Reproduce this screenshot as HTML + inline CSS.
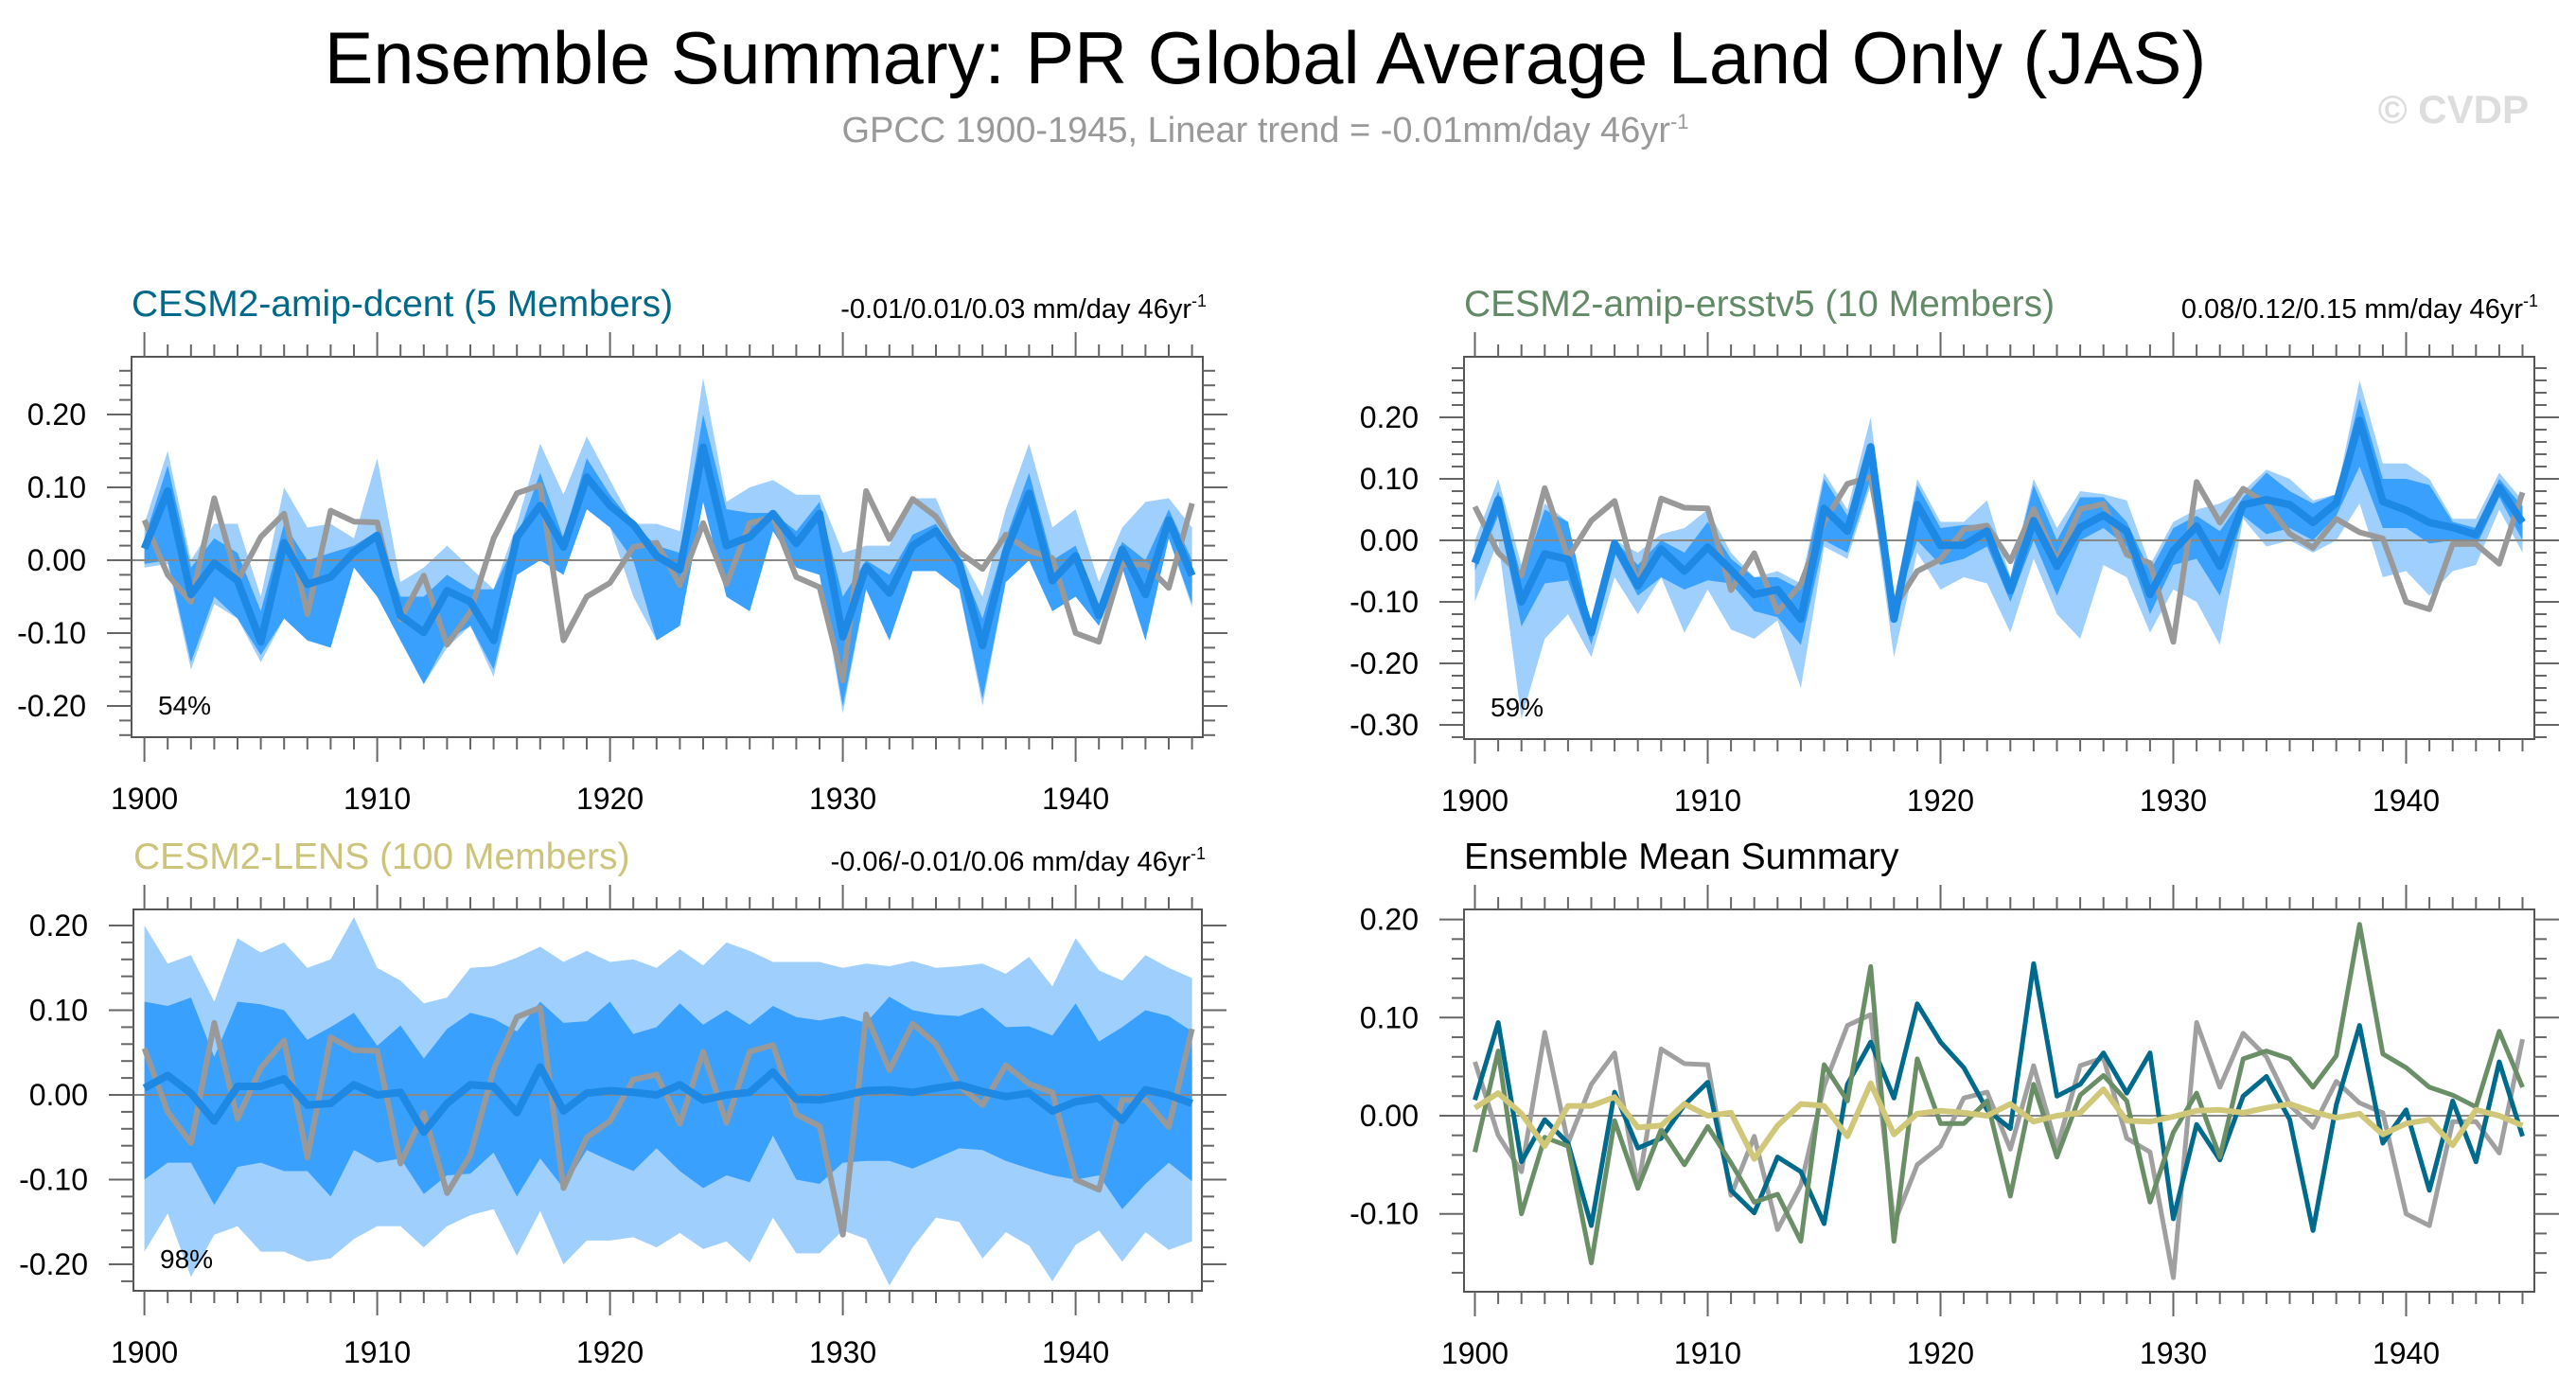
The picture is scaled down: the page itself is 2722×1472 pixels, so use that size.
<!DOCTYPE html>
<html><head><meta charset="utf-8">
<style>
html,body{margin:0;padding:0;background:#fff;}
svg{display:block;font-family:"Liberation Sans",Arial,sans-serif;}
</style></head>
<body>
<svg id="chart" width="2722" height="1472" viewBox="0 0 2722 1472" xmlns="http://www.w3.org/2000/svg">
<rect width="2722" height="1472" fill="#fff"/>
<text x="1337" y="88" font-size="77.5" text-anchor="middle" fill="#000">Ensemble Summary: PR Global Average Land Only (JAS)</text>
<text x="1337" y="150" font-size="38" text-anchor="middle" fill="#999">GPCC 1900-1945, Linear trend = -0.01mm/day 46yr<tspan dy="-14" font-size="22">-1</tspan></text>
<text x="2672" y="130" font-size="42" font-weight="bold" text-anchor="end" fill="#ddd">© CVDP</text>
<g id="panels"></g>
</svg>
<script>
const years = [];
for (let y = 1900; y <= 1945; y++) years.push(y);

const obs = [0.055,-0.02,-0.057,0.085,-0.028,0.032,0.064,-0.074,0.068,0.053,0.052,-0.081,-0.021,-0.116,-0.071,0.03,0.092,0.103,-0.11,-0.05,-0.031,0.018,0.024,-0.034,0.051,-0.033,0.051,0.059,-0.023,-0.037,-0.165,0.095,0.029,0.084,0.06,0.011,-0.012,0.035,0.013,0.003,-0.1,-0.112,-0.006,-0.006,-0.038,0.078];

const dcentMean = [0.016,0.095,-0.047,-0.004,-0.028,-0.112,0.024,-0.033,-0.023,0.011,0.034,-0.076,-0.099,-0.042,-0.057,-0.11,0.032,0.075,0.018,0.114,0.075,0.049,0.006,-0.013,0.155,0.02,0.032,0.064,0.023,0.064,-0.105,-0.009,-0.045,0.02,0.04,-0.004,-0.117,0.011,0.092,-0.028,0.006,-0.076,0.015,-0.047,0.055,-0.021];
const dcentDarkHi = [0.03,0.13,-0.01,0.03,0.01,-0.07,0.05,0.0,0.01,0.02,0.04,-0.05,-0.05,-0.02,-0.04,-0.04,0.03,0.12,0.03,0.14,0.09,0.05,0.02,0.01,0.20,0.07,0.065,0.065,0.04,0.08,-0.05,0.0,-0.02,0.035,0.05,0.0,-0.08,0.03,0.12,0.0,0.02,-0.06,0.025,0.0,0.07,0.0];
const dcentDarkLo = [-0.005,0.0,-0.14,-0.05,-0.08,-0.13,-0.08,-0.11,-0.12,-0.01,-0.05,-0.11,-0.17,-0.11,-0.09,-0.15,-0.02,0.0,-0.02,0.07,0.045,0.0,-0.11,-0.09,0.08,-0.05,-0.07,0.04,-0.01,-0.02,-0.20,-0.04,-0.11,-0.015,-0.015,-0.04,-0.19,-0.03,0.0,-0.07,-0.05,-0.09,-0.01,-0.11,0.03,-0.06];
const dcentLightHi = [0.05,0.15,0.0,0.05,0.05,-0.05,0.10,0.045,0.05,0.03,0.14,-0.03,-0.01,0.02,-0.01,-0.04,0.05,0.16,0.09,0.17,0.11,0.05,0.05,0.04,0.25,0.08,0.10,0.11,0.09,0.09,0.01,0.02,0.02,0.085,0.085,0.01,-0.05,0.07,0.16,0.045,0.07,-0.03,0.045,0.08,0.085,0.045];
const dcentLightLo = [-0.01,-0.005,-0.15,-0.06,-0.08,-0.14,-0.08,-0.11,-0.12,-0.01,-0.05,-0.11,-0.17,-0.12,-0.09,-0.16,-0.02,0.0,-0.02,0.07,0.045,-0.05,-0.11,-0.09,0.08,-0.05,-0.07,0.04,-0.01,-0.02,-0.21,-0.04,-0.11,-0.015,-0.015,-0.04,-0.2,-0.03,0.0,-0.07,-0.05,-0.09,-0.01,-0.11,0.03,-0.065];

const ersstMean = [-0.037,0.066,-0.10,-0.022,-0.031,-0.15,-0.005,-0.074,-0.014,-0.05,-0.011,-0.048,-0.088,-0.08,-0.128,0.052,0.015,0.152,-0.128,0.058,-0.008,-0.008,0.015,-0.082,0.032,-0.042,0.021,0.041,0.015,-0.088,-0.017,0.023,-0.042,0.058,0.066,0.058,0.029,0.061,0.195,0.063,0.049,0.029,0.021,0.009,0.086,0.029];
const ersstDarkHi = [-0.02,0.08,-0.06,0.05,0.03,-0.14,0.0,-0.04,0.0,-0.02,0.03,-0.03,-0.06,-0.06,-0.08,0.10,0.04,0.15,-0.10,0.09,0.02,0.025,0.025,-0.06,0.09,0.0,0.07,0.07,0.03,-0.05,0.02,0.04,0.015,0.07,0.11,0.08,0.06,0.075,0.23,0.10,0.10,0.09,0.03,0.02,0.10,0.055];
const ersstDarkLo = [-0.05,0.04,-0.14,-0.07,-0.065,-0.17,-0.02,-0.09,-0.06,-0.08,-0.065,-0.07,-0.115,-0.125,-0.17,0.0,-0.02,0.10,-0.12,0.0,-0.04,-0.03,-0.01,-0.10,0.0,-0.09,0.0,0.02,-0.01,-0.12,-0.04,-0.03,-0.09,0.04,0.01,0.02,0.0,0.04,0.12,0.02,0.02,-0.005,0.0,-0.01,0.07,0.0];
const ersstLightHi = [0.0,0.10,-0.04,0.06,0.03,-0.14,0.0,-0.02,0.01,0.02,0.05,-0.02,-0.06,-0.05,-0.07,0.11,0.05,0.20,-0.10,0.10,0.03,0.03,0.065,-0.06,0.10,0.02,0.08,0.075,0.065,-0.04,0.03,0.05,0.06,0.08,0.115,0.10,0.065,0.075,0.26,0.125,0.125,0.10,0.035,0.035,0.11,0.065];
const ersstLightLo = [-0.10,0.0,-0.29,-0.16,-0.12,-0.19,-0.06,-0.12,-0.06,-0.15,-0.08,-0.145,-0.16,-0.13,-0.24,-0.01,-0.03,0.09,-0.19,-0.02,-0.08,-0.06,-0.07,-0.15,-0.03,-0.12,-0.16,-0.04,-0.06,-0.15,-0.08,-0.10,-0.17,0.035,-0.01,0.0,-0.02,0.0,0.06,-0.06,-0.05,-0.09,-0.05,-0.04,0.05,-0.02];

const lensMean = [0.008,0.023,0.002,-0.031,0.01,0.01,0.019,-0.012,-0.01,0.012,0.0,0.003,-0.044,-0.01,0.012,0.01,-0.021,0.033,-0.019,0.002,0.005,0.003,0.0,0.012,-0.006,0.0,0.003,0.027,-0.005,-0.006,-0.001,0.005,0.006,0.003,0.008,0.012,0.004,-0.002,0.002,-0.019,-0.008,-0.004,-0.03,0.006,0.0,-0.01];
const lensDarkHi = [0.11,0.105,0.115,0.045,0.11,0.107,0.10,0.065,0.08,0.097,0.058,0.082,0.043,0.078,0.097,0.09,0.075,0.11,0.085,0.087,0.11,0.072,0.08,0.108,0.083,0.10,0.083,0.105,0.092,0.088,0.093,0.085,0.116,0.10,0.095,0.093,0.103,0.08,0.081,0.07,0.108,0.063,0.08,0.10,0.093,0.075];
const lensDarkLo = [-0.10,-0.08,-0.08,-0.13,-0.085,-0.08,-0.09,-0.09,-0.12,-0.065,-0.08,-0.075,-0.117,-0.095,-0.093,-0.068,-0.12,-0.075,-0.11,-0.065,-0.078,-0.09,-0.063,-0.09,-0.11,-0.095,-0.103,-0.048,-0.10,-0.105,-0.08,-0.078,-0.078,-0.087,-0.075,-0.063,-0.065,-0.078,-0.087,-0.095,-0.10,-0.095,-0.135,-0.105,-0.08,-0.102];
const lensLightHi = [0.20,0.155,0.165,0.11,0.185,0.168,0.18,0.15,0.16,0.21,0.15,0.135,0.108,0.115,0.15,0.152,0.162,0.175,0.157,0.17,0.157,0.16,0.15,0.172,0.153,0.18,0.17,0.157,0.157,0.157,0.15,0.155,0.152,0.158,0.15,0.152,0.155,0.143,0.163,0.128,0.185,0.147,0.135,0.165,0.15,0.138];
const lensLightLo = [-0.185,-0.14,-0.215,-0.165,-0.155,-0.185,-0.185,-0.197,-0.193,-0.17,-0.155,-0.155,-0.18,-0.155,-0.142,-0.135,-0.19,-0.137,-0.2,-0.172,-0.172,-0.168,-0.18,-0.163,-0.182,-0.173,-0.198,-0.145,-0.187,-0.187,-0.16,-0.17,-0.225,-0.18,-0.145,-0.15,-0.193,-0.162,-0.178,-0.22,-0.177,-0.16,-0.197,-0.162,-0.183,-0.173];

const yTicks1 = [-0.20,-0.10,0.00,0.10,0.20];
const yTicks2 = [-0.30,-0.20,-0.10,0.00,0.10,0.20];
const yTicks3 = [-0.20,-0.10,0.00,0.10,0.20];
const yTicks4 = [-0.10,0.00,0.10,0.20];
const xTicks = [1900,1910,1920,1930,1940];

const NS = "http://www.w3.org/2000/svg";
const root = document.getElementById('panels');
function mk(tag, attrs, parent) {
  const e = document.createElementNS(NS, tag);
  for (const k in attrs) e.setAttribute(k, attrs[k]);
  (parent || root).appendChild(e);
  return e;
}

function panel(cfg) {
  const g = mk('g', {});
  
  
  const L = cfg.left, R = cfg.right, T = cfg.top, B = cfg.bottom;
  const pxPerUnit = cfg.unit * 100;
  const xS = y => cfg.x1900 + (y - 1900) * 24.6;
  const yS = v => cfg.zero - v * pxPerUnit;
  const vMin = (cfg.zero - B) / pxPerUnit, vMax = (cfg.zero - T) / pxPerUnit;

  const clip = mk('clipPath', {id: cfg.name + '-clip'}, g);
  mk('rect', {x: L, y: T, width: R - L, height: B - T}, clip);
  const pg = mk('g', {'clip-path': 'url(#' + cfg.name + '-clip)'}, g);

  function band(hi, lo, color, nm) {
    let d = '';
    years.forEach((y, i) => { d += (i ? 'L' : 'M') + xS(y).toFixed(1) + ' ' + yS(hi[i]).toFixed(1); });
    for (let i = years.length - 1; i >= 0; i--) d += 'L' + xS(years[i]).toFixed(1) + ' ' + yS(lo[i]).toFixed(1);
    const p = mk('path', {d: d + 'Z', fill: color}, pg);
    
    
  }
  function line(vals, color, w, nm) {
    const pts = years.map((y, i) => xS(y).toFixed(1) + ',' + yS(vals[i]).toFixed(1)).join(' ');
    const p = mk('polyline', {points: pts, fill: 'none', stroke: color, 'stroke-width': w, 'stroke-linejoin': 'round'}, pg);
    
    
  }
  if (cfg.bands) {
    band(cfg.bands[2], cfg.bands[3], '#9fcffd', 'outer-range-band');
    band(cfg.bands[0], cfg.bands[1], '#3aa0fd', 'inner-range-band');
  }
  const z = mk('line', {x1: L, x2: R, y1: yS(0), y2: yS(0), stroke: '#888', 'stroke-width': 2}, pg);
  
  
  cfg.lines.forEach(l => line(l.v, l.c, l.w, l.n));

  const fr = mk('rect', {x: L, y: T, width: R - L, height: B - T, fill: 'none', stroke: '#555', 'stroke-width': 2}, g);
  
  

  for (let y = 1900; y <= 1945; y++) {
    const x = xS(y), maj = y % 10 === 0, len = maj ? 26 : 13;
    mk('line', {x1: x, x2: x, y1: B, y2: B + len, stroke: '#666', 'stroke-width': 2}, g);
    mk('line', {x1: x, x2: x, y1: T, y2: T - len, stroke: '#666', 'stroke-width': 2}, g);
  }
  xTicks.forEach(y => {
    const t = mk('text', {x: xS(y), y: B + 76, 'font-size': 32, 'text-anchor': 'middle', fill: '#000'}, g);
    t.textContent = y;
    
    
  });
  for (let k = Math.ceil(vMin * 50 - 1e-6); k <= Math.floor(vMax * 50 + 1e-6); k++) {
    const v = k / 50, yy = yS(v), maj = k % 5 === 0, len = maj ? 26 : 13;
    mk('line', {x1: L, x2: L - len, y1: yy, y2: yy, stroke: '#666', 'stroke-width': 2}, g);
    mk('line', {x1: R, x2: R + len, y1: yy, y2: yy, stroke: '#666', 'stroke-width': 2}, g);
  }
  cfg.yTicks.forEach(v => {
    const t = mk('text', {x: L - 48, y: yS(v) + 11, 'font-size': 32, 'text-anchor': 'end', fill: '#000'}, g);
    t.textContent = v.toFixed(2);
    
    
  });
  const tt = mk('text', {x: L, y: cfg.titleY, 'font-size': 39, fill: cfg.titleColor}, g);
  tt.textContent = cfg.title;
  
  
  if (cfg.trend) {
    const tr = mk('text', {x: R + 4, y: cfg.titleY + 2, 'font-size': 29, 'text-anchor': 'end', fill: '#000'}, g);
    tr.textContent = cfg.trend;
    const sup = mk('tspan', {dy: -12, 'font-size': 18}, tr);
    sup.textContent = '-1';
    
    
  }
  if (cfg.pct) {
    const p = mk('text', {x: L + 28, y: B - 24, 'font-size': 28, fill: '#000'}, g);
    p.textContent = cfg.pct;
    
    
  }
}

panel({name: 'panel-dcent', left: 139, right: 1271, top: 377, bottom: 779, x1900: 152.6, zero: 592, unit: 7.7,
  yTicks: yTicks1, title: 'CESM2-amip-dcent (5 Members)', titleColor: '#00698a', titleY: 334,
  trend: '-0.01/0.01/0.03 mm/day 46yr', pct: '54%',
  bands: [dcentDarkHi, dcentDarkLo, dcentLightHi, dcentLightLo],
  lines: [{v: obs, c: '#999', w: 6, n: 'observed-line'}, {v: dcentMean, c: '#1e88e5', w: 8, n: 'ensemble-mean-line'}]});

panel({name: 'panel-ersstv5', left: 1547, right: 2678, top: 377, bottom: 781, x1900: 1558.5, zero: 571, unit: 6.5,
  yTicks: yTicks2, title: 'CESM2-amip-ersstv5 (10 Members)', titleColor: '#628a66', titleY: 334,
  trend: '0.08/0.12/0.15 mm/day 46yr', pct: '59%',
  bands: [ersstDarkHi, ersstDarkLo, ersstLightHi, ersstLightLo],
  lines: [{v: obs, c: '#999', w: 6, n: 'observed-line'}, {v: ersstMean, c: '#1e88e5', w: 8, n: 'ensemble-mean-line'}]});

panel({name: 'panel-lens', left: 141, right: 1270, top: 961, bottom: 1364, x1900: 152.6, zero: 1157, unit: 8.95,
  yTicks: yTicks3, title: 'CESM2-LENS (100 Members)', titleColor: '#cbc47a', titleY: 918,
  trend: '-0.06/-0.01/0.06 mm/day 46yr', pct: '98%',
  bands: [lensDarkHi, lensDarkLo, lensLightHi, lensLightLo],
  lines: [{v: obs, c: '#999', w: 6, n: 'observed-line'}, {v: lensMean, c: '#1e88e5', w: 8, n: 'ensemble-mean-line'}]});

panel({name: 'panel-mean-summary', left: 1547, right: 2678, top: 961, bottom: 1365, x1900: 1558.5, zero: 1179, unit: 10.37,
  yTicks: yTicks4, title: 'Ensemble Mean Summary', titleColor: '#000', titleY: 918,
  lines: [{v: obs, c: '#a0a0a0', w: 5, n: 'observed-line'},
          {v: dcentMean, c: '#006a8c', w: 5, n: 'dcent-mean-line'},
          {v: ersstMean, c: '#6a8f66', w: 5, n: 'ersstv5-mean-line'},
          {v: lensMean, c: '#d0c878', w: 6, n: 'lens-mean-line'}]});
</script>
</body></html>
